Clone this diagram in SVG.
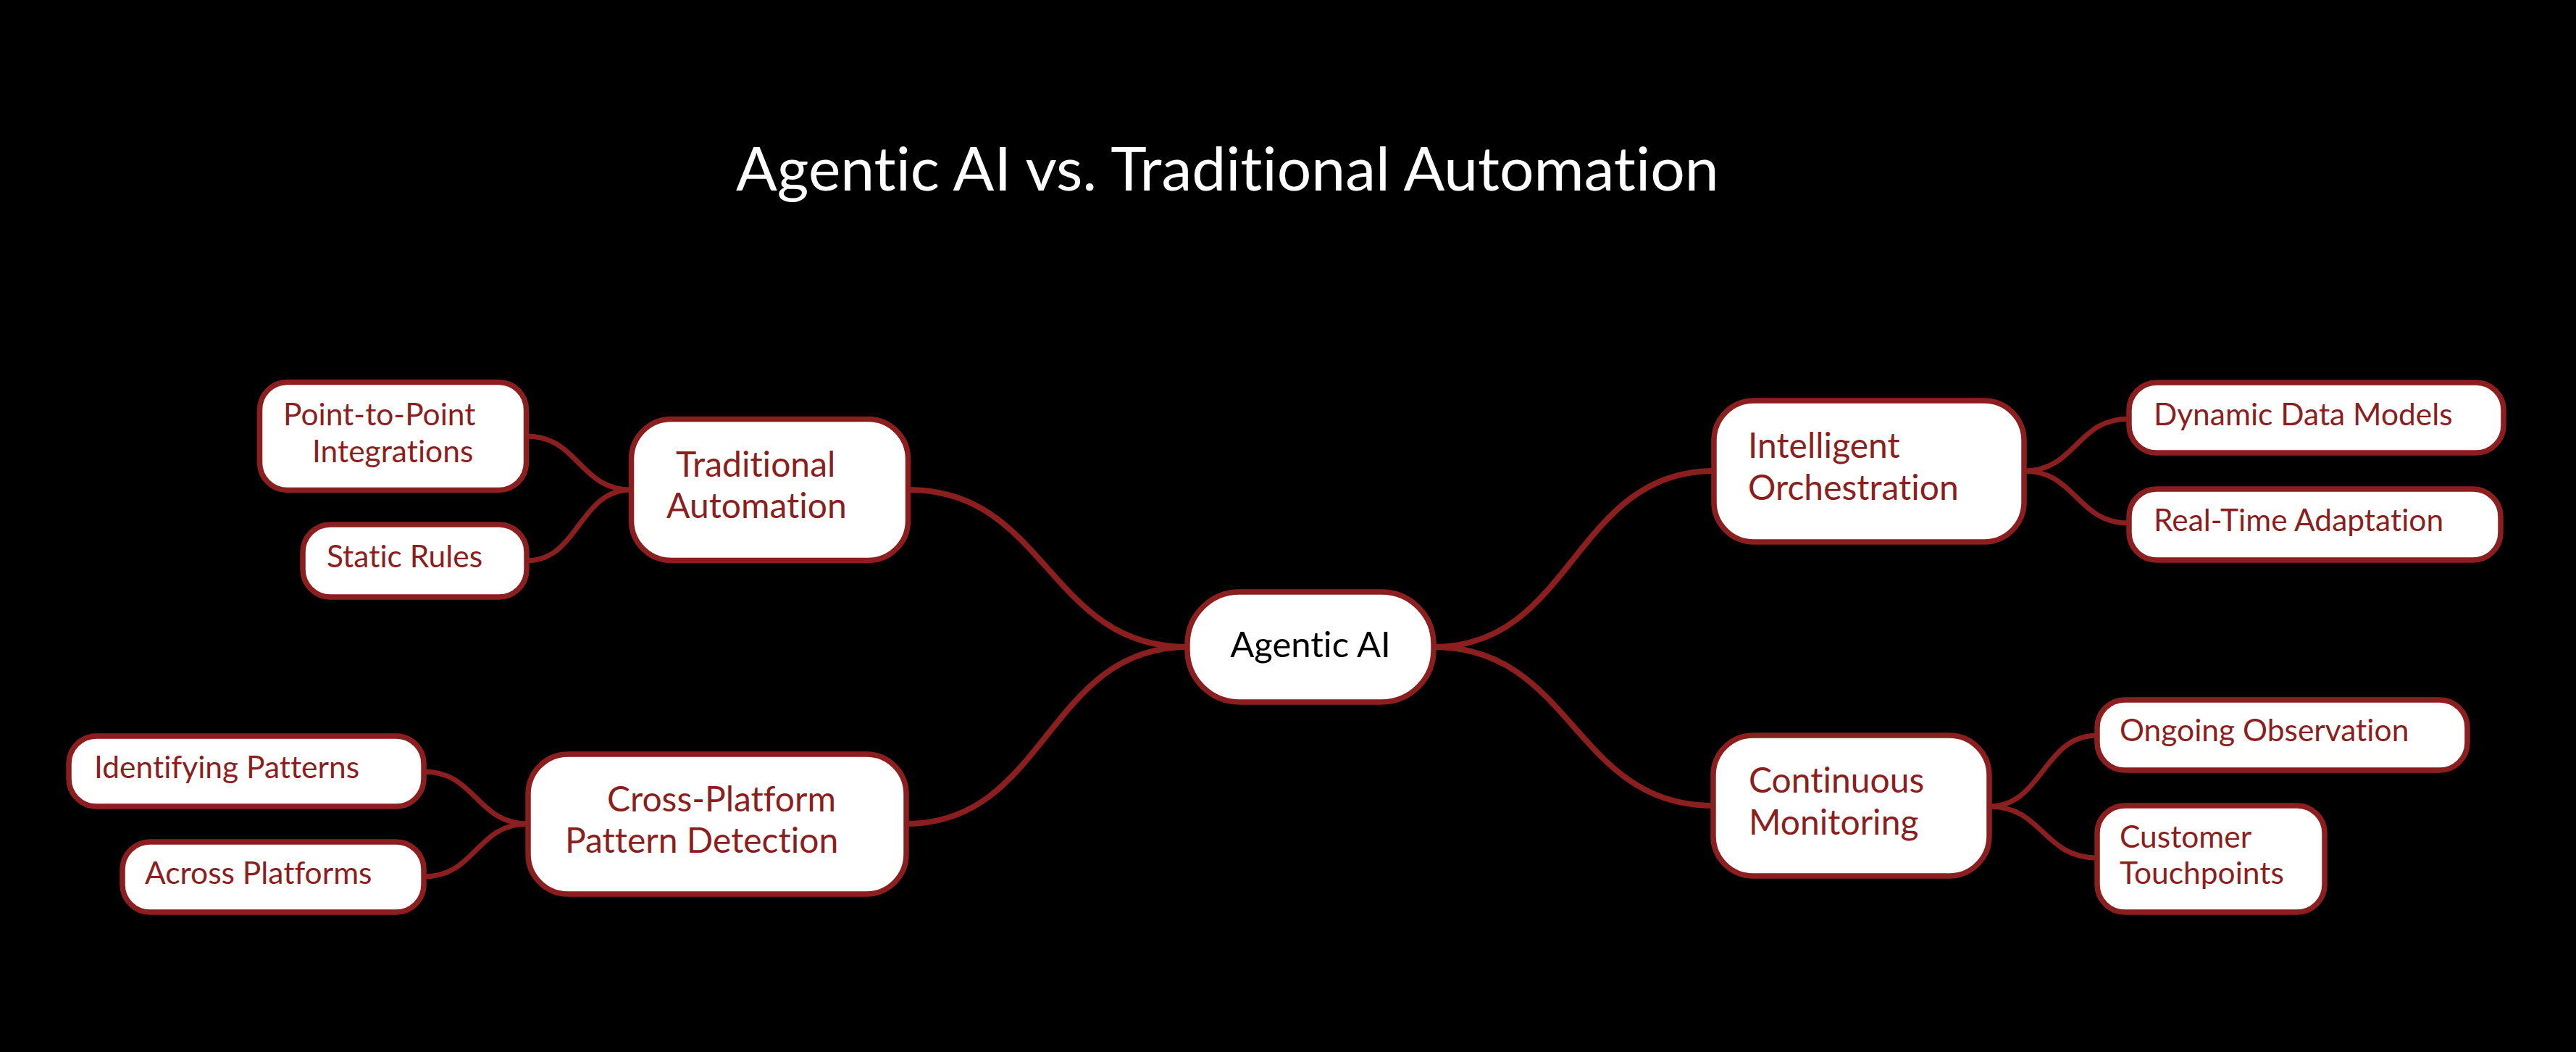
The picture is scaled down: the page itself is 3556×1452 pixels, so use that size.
<svg xmlns="http://www.w3.org/2000/svg" width="3556" height="1452" viewBox="0 0 3556 1452">
<style>
.bg{fill:#000}
.node rect{fill:#fff;stroke:#8b1f1f;stroke-width:7.5}
.conn path{fill:none;stroke:#8b1f1f;stroke-width:7;stroke-linecap:round}
.conn path.main{stroke-width:8}
text{font-family:Lato,"Liberation Sans",sans-serif;font-variant-ligatures:none}
.title{fill:#fff;font-size:84px}
.center{fill:#000;font-size:49px}
.mainT{fill:#8b1f1f;font-size:48px}
.child{fill:#8b1f1f;font-size:42.5px}
</style>
<rect class="bg" x="0" y="0" width="3556" height="1452"/>
<text class="title" x="1016" y="263">Agentic AI vs. Traditional Automation</text>
<g class="conn" id="connectors">
<path class="main" d="M1639 893 C1446 893 1446 676 1253.5 676"/>
<path class="main" d="M1639 893 C1445 893 1445 1137 1251 1137"/>
<path class="main" d="M1979 893 C2172 893 2172 650 2366 650"/>
<path class="main" d="M1979 893 C2172 893 2172 1112 2365 1112"/>
<path d="M871.5 676 C799 676 799 602 726.5 602"/>
<path d="M871.5 676 C799 676 799 774 727 774"/>
<path d="M729 1137 C657 1137 657 1065 585 1065"/>
<path d="M729 1137 C657 1137 657 1210 585 1210"/>
<path d="M2794 650 C2866 650 2866 578 2939 578"/>
<path d="M2794 650 C2866 650 2866 722 2939 722"/>
<path d="M2746 1113 C2820 1113 2820 1015 2895 1015"/>
<path d="M2746 1113 C2820 1113 2820 1184 2895 1184"/>
</g>
<g class="node" id="agentic-ai">
<rect x="1639" y="817" width="340" height="152" rx="72"/>
<text class="center" x="1809" y="907" text-anchor="middle">Agentic AI</text>
</g>
<g class="node" id="traditional-automation">
<rect x="871.5" y="578.5" width="382" height="195" rx="55"/>
<text class="mainT" x="933" y="658">Traditional</text>
<text class="mainT" x="920" y="715">Automation</text>
</g>
<g class="node" id="cross-platform">
<rect x="729" y="1041" width="522" height="193" rx="55"/>
<text class="mainT" x="838" y="1120">Cross-Platform</text>
<text class="mainT" x="780" y="1177">Pattern Detection</text>
</g>
<g class="node" id="intelligent-orchestration">
<rect x="2366" y="553" width="428" height="195" rx="55"/>
<text class="mainT" x="2413" y="632">Intelligent</text>
<text class="mainT" x="2413" y="690">Orchestration</text>
</g>
<g class="node" id="continuous-monitoring">
<rect x="2365" y="1015" width="381" height="194" rx="55"/>
<text class="mainT" x="2414" y="1094">Continuous</text>
<text class="mainT" x="2414" y="1152">Monitoring</text>
</g>
<g class="node" id="point-to-point">
<rect x="358.5" y="527.5" width="368" height="149" rx="38"/>
<text class="child" x="391" y="587">Point-to-Point</text>
<text class="child" x="431" y="638">Integrations</text>
</g>
<g class="node" id="static-rules">
<rect x="418" y="724" width="309" height="100" rx="38"/>
<text class="child" x="451" y="783">Static Rules</text>
</g>
<g class="node" id="identifying-patterns">
<rect x="95" y="1016" width="490" height="97" rx="38"/>
<text class="child" x="130" y="1074">Identifying Patterns</text>
</g>
<g class="node" id="across-platforms">
<rect x="169" y="1162" width="416" height="97" rx="38"/>
<text class="child" x="200" y="1220">Across Platforms</text>
</g>
<g class="node" id="dynamic-data-models">
<rect x="2939" y="528" width="517" height="97" rx="38"/>
<text class="child" x="2973" y="587">Dynamic Data Models</text>
</g>
<g class="node" id="real-time-adaptation">
<rect x="2939" y="675" width="513" height="98" rx="38"/>
<text class="child" x="2973" y="733">Real-Time Adaptation</text>
</g>
<g class="node" id="ongoing-observation">
<rect x="2895" y="966" width="511" height="97" rx="38"/>
<text class="child" x="2926" y="1023">Ongoing Observation</text>
</g>
<g class="node" id="customer-touchpoints">
<rect x="2895" y="1112" width="314" height="147" rx="38"/>
<text class="child" x="2926" y="1170">Customer</text>
<text class="child" x="2926" y="1220">Touchpoints</text>
</g>
</svg>
